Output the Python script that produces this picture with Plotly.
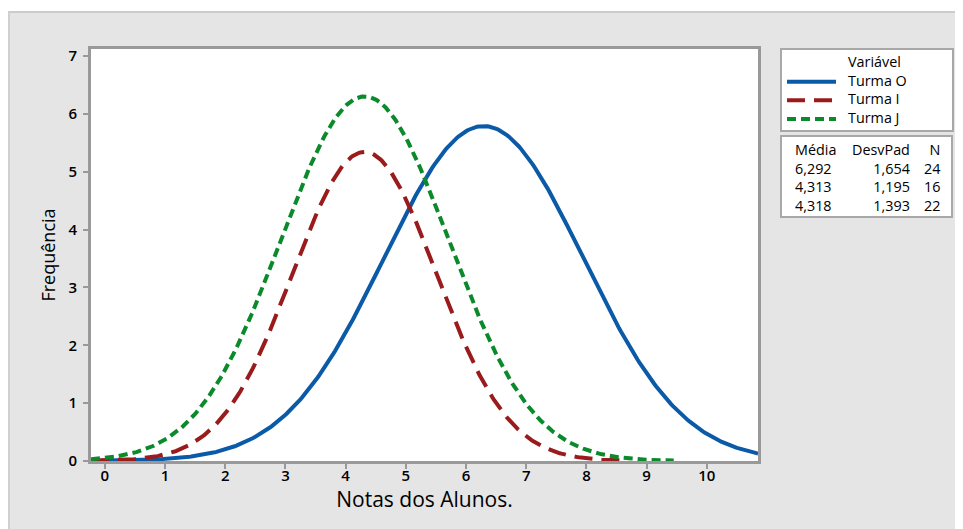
import numpy as np
import plotly.graph_objects as go

# Data (from the chart's summary table)
groups = ["Turma O", "Turma I", "Turma J"]
means = [6.292, 4.313, 4.318]
stdevs = [1.654, 1.195, 1.393]
counts = [24, 16, 22]
x_end = [10.85, 8.7, 9.45]          # where each fitted curve is visibly drawn to

x_ticks = list(range(0, 11))
y_ticks = list(range(0, 8))

colors = ["#0b5aa8", "#9a1b1b", "#0a8a2a"]
dashes = ["solid", "18px,9px", "9px,5px"]

fig = go.Figure()
for g, m, s, n, xe, c, d in zip(groups, means, stdevs, counts, x_end, colors, dashes):
    xs = np.linspace(-0.23, xe, 400)
    ys = n * np.exp(-0.5 * ((xs - m) / s) ** 2) / (s * np.sqrt(2 * np.pi))
    fig.add_trace(go.Scatter(x=xs, y=ys, mode="lines", name=g, showlegend=False,
                             line=dict(color=c, width=4, dash=d)))

font_family = "Open Sans, Noto Sans, sans-serif"
# page body has an 8px margin: screen coords = figure coords + 8
fig.update_layout(
    width=963, height=529,
    margin=dict(l=83, r=213, t=41, b=76),
    paper_bgcolor="#e5e5e5", plot_bgcolor="white",
    font=dict(family=font_family, color="black", size=15),
    showlegend=False,
    xaxis=dict(range=[-0.23, 10.85], tickvals=x_ticks, ticks="outside", ticklen=5,
               tickwidth=2, tickcolor="#999", showgrid=False, zeroline=False,
               showline=True, linecolor="#999", linewidth=3, mirror=True,
               ticklabelstandoff=-6,
               tickfont=dict(size=15, family=font_family, weight=600),
               title=dict(text="Notas dos Alunos.", font=dict(size=21), standoff=8)),
    yaxis=dict(range=[0, 7.12], tickvals=y_ticks, ticks="outside", ticklen=5,
               tickwidth=2, tickcolor="#999", showgrid=False, zeroline=False,
               showline=True, linecolor="#999", linewidth=3, mirror=True,
               ticklabelstandoff=3,
               tickfont=dict(size=15, family=font_family, weight=600),
               title=dict(text="Frequência", font=dict(size=18), standoff=9)),
)

# helpers: screen pixel -> paper coords (plot area on screen: x 91..758, y 49..461)
pw, ph = 667.0, 412.0
def px(xp):
    return (xp - 91) / pw
def py(yp):
    return (461 - yp) / ph

# thin white strip and border line at top/left of grey panel
fig.add_shape(type="rect", xref="paper", yref="paper", x0=px(8), x1=px(971), y0=py(11), y1=py(8),
              fillcolor="white", line_width=0, layer="below")
fig.add_shape(type="line", xref="paper", yref="paper", x0=px(8), x1=px(971), y0=py(12), y1=py(12),
              line=dict(color="#cccccc", width=2))
fig.add_shape(type="line", xref="paper", yref="paper", x0=px(9), x1=px(9), y0=py(12), y1=py(537),
              line=dict(color="#d0d0d0", width=2))

txt_size = 14.36   # line height 1.3 * size = row spacing of the boxes

# legend box (manual)
fig.add_shape(type="rect", xref="paper", yref="paper", x0=px(781), x1=px(953), y0=py(131), y1=py(49),
              fillcolor="white", line=dict(color="#a8a8a8", width=2))
leg_ys = [80.7, 99.3, 118]
for g, c, d, yy in zip(groups, colors, dashes, leg_ys):
    fig.add_shape(type="line", xref="paper", yref="paper", x0=px(787), x1=px(836),
                  y0=py(yy + 1), y1=py(yy + 1), line=dict(color=c, width=4, dash=d))
leg_text = "<br>".join(["Variável"] + groups)
fig.add_annotation(xref="paper", yref="paper", x=px(846), y=py(90), text=leg_text,
                   showarrow=False, xanchor="left", yanchor="middle", align="left",
                   font=dict(size=txt_size))

# statistics table box
fig.add_shape(type="rect", xref="paper", yref="paper", x0=px(781), x1=px(952), y0=py(217), y1=py(136),
              fillcolor="white", line=dict(color="#a8a8a8", width=2))
def fmt(v, nd):
    return f"{v:.{nd}f}".replace(".", ",")
col_media = "<br>".join(["Média"] + [fmt(m, 3) for m in means])
col_sd = "<br>".join(["DesvPad"] + [fmt(s, 3) for s in stdevs])
col_n = "<br>".join(["N"] + [str(n) for n in counts])
tab_cy = 177
fig.add_annotation(xref="paper", yref="paper", x=px(793), y=py(tab_cy), text=col_media,
                   showarrow=False, xanchor="left", yanchor="middle", align="left",
                   font=dict(size=txt_size))
fig.add_annotation(xref="paper", yref="paper", x=px(912), y=py(tab_cy), text=col_sd,
                   showarrow=False, xanchor="right", yanchor="middle", align="right",
                   font=dict(size=txt_size))
fig.add_annotation(xref="paper", yref="paper", x=px(942), y=py(tab_cy), text=col_n,
                   showarrow=False, xanchor="right", yanchor="middle", align="right",
                   font=dict(size=txt_size))

fig.write_html("out.html")
